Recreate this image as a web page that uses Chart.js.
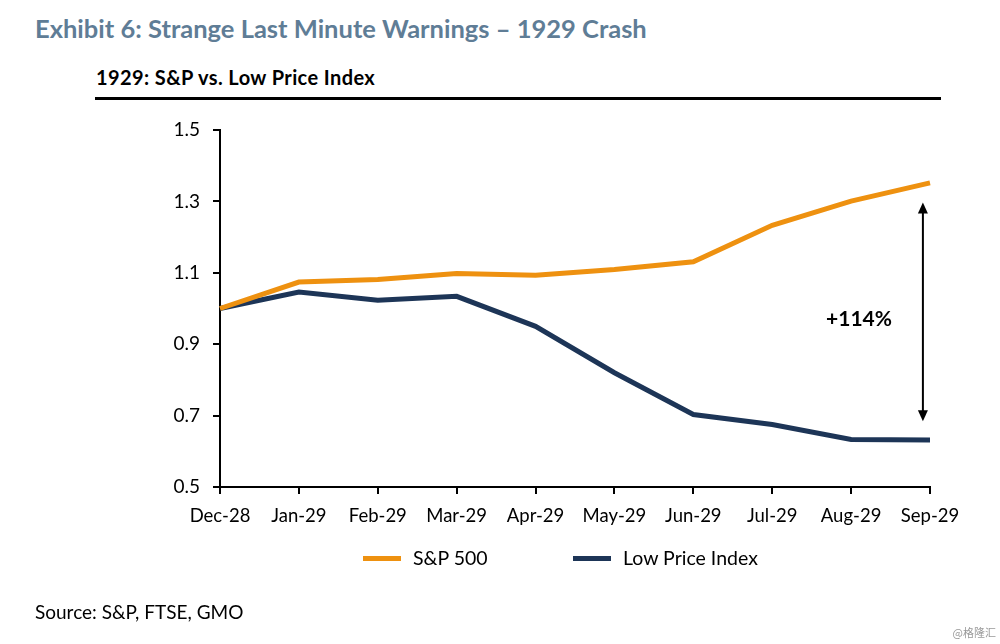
<!DOCTYPE html>
<html>
<head>
<meta charset="utf-8">
<script src="https://cdn.jsdelivr.net/npm/chart.js@4"></script>
<style>
  html, body { margin: 0; padding: 0; background: #fff; }
  body { width: 1000px; height: 644px; position: relative; overflow: hidden; font-family: Lato, "Open Sans", sans-serif; }
  #my-chart { position: absolute; left: 0; top: 0; }
  .txt { position: absolute; white-space: nowrap; }
  #title { left: 35px; top: 13px; font-size: 25.5px; font-weight: bold; color: #5f7d96; }
  #subtitle { left: 96px; top: 65px; font-size: 20px; font-weight: bold; color: #000; letter-spacing: 0.4px; }
  #rule { position: absolute; left: 95px; top: 97px; width: 846px; height: 3px; background: #000; }
  .legend-item { position: absolute; top: 546px; font-size: 19.5px; color: #000; }
  .swatch { display: inline-block; width: 38px; height: 5px; vertical-align: middle; margin-right: 12px; position: relative; top: -2px; }
  #source { left: 35px; top: 600px; font-size: 19px; color: #000; }
  #mark { right: 4px; top: 624px; font-size: 11px; color: #999; font-family: "Noto Sans CJK SC", sans-serif; }
</style>
</head>
<body>
<div class="txt" id="title">Exhibit 6: Strange Last Minute Warnings – 1929 Crash</div>
<div class="txt" id="subtitle">1929: S&amp;P vs. Low Price Index</div>
<div id="rule"></div>
<canvas id="my-chart" width="1000" height="644"></canvas>
<div class="legend-item" style="left:363px;"><span class="swatch" style="background:#ee9110;"></span>S&amp;P 500</div>
<div class="legend-item" style="left:573px;"><span class="swatch" style="background:#1d3557;"></span>Low Price Index</div>
<div class="txt" id="source">Source: S&amp;P, FTSE, GMO</div>
<div class="txt" id="mark">@格隆汇</div>
<script>
'use strict';

// DATA
let months = ['Dec-28', 'Jan-29', 'Feb-29', 'Mar-29', 'Apr-29', 'May-29', 'Jun-29', 'Jul-29', 'Aug-29', 'Sep-29'];
let spValues = [1.0, 1.074, 1.081, 1.098, 1.093, 1.109, 1.131, 1.233, 1.301, 1.352];
let lowValues = [1.0, 1.046, 1.023, 1.034, 0.950, 0.820, 0.703, 0.675, 0.633, 0.632];
let yTicks = [0.5, 0.7, 0.9, 1.1, 1.3, 1.5];

// ANNOTATION (arrow between the two lines near Sep-29)
let arrowIndex = 8.91;
let arrowTop = 1.297;
let arrowBottom = 0.684;
let gapLabel = '+114%';
let gapLabelIndex = 8.1;
let gapLabelValue = 0.97;

let canvasElem = document.getElementById('my-chart');

// draws the double-headed arrow and its label
let arrowPlugin = {
  id: 'gapArrow',
  afterDatasetsDraw(chart) {
    let ctx = chart.ctx;
    let x = chart.scales.x.getPixelForValue(arrowIndex);
    let y1 = chart.scales.y.getPixelForValue(arrowTop);
    let y2 = chart.scales.y.getPixelForValue(arrowBottom);
    ctx.save();
    ctx.strokeStyle = '#000';
    ctx.fillStyle = '#000';
    ctx.lineWidth = 2;
    ctx.beginPath();
    ctx.moveTo(x, y1 + 8);
    ctx.lineTo(x, y2 - 8);
    ctx.stroke();
    ctx.beginPath();
    ctx.moveTo(x, y1);
    ctx.lineTo(x - 5, y1 + 11);
    ctx.lineTo(x + 5, y1 + 11);
    ctx.closePath();
    ctx.fill();
    ctx.beginPath();
    ctx.moveTo(x, y2);
    ctx.lineTo(x - 5, y2 - 11);
    ctx.lineTo(x + 5, y2 - 11);
    ctx.closePath();
    ctx.fill();
    ctx.font = 'bold 21px Lato, "Open Sans", sans-serif';
    ctx.textAlign = 'center';
    ctx.textBaseline = 'middle';
    ctx.fillText(gapLabel, chart.scales.x.getPixelForValue(gapLabelIndex), chart.scales.y.getPixelForValue(gapLabelValue));
    ctx.restore();
  }
};

let theChart = {
  type: 'line',
  data: {
    labels: months,
    datasets: [{
      label: 'S&P 500',
      data: spValues,
      borderColor: '#ee9110',
      borderWidth: 5,
      pointRadius: 0,
      tension: 0
    },
    {
      label: 'Low Price Index',
      data: lowValues,
      borderColor: '#1d3557',
      borderWidth: 5,
      pointRadius: 0,
      tension: 0
    }]
  },
  options: {
    responsive: false,
    animation: false,
    layout: {
      padding: { left: 0, right: 70, top: 130, bottom: 117 }
    },
    plugins: {
      legend: { display: false },
      tooltip: { enabled: false }
    },
    scales: {
      x: {
        offset: false,
        grid: { drawOnChartArea: false, color: '#000', tickLength: 7, lineWidth: 2 },
        border: { color: '#000', width: 2 },
        ticks: {
          color: '#000',
          font: { family: 'Lato, "Open Sans", sans-serif', size: 18.5 },
          maxRotation: 0,
          autoSkip: false,
          padding: 11
        },
        afterFit(scale) { scale.height = 40; }
      },
      y: {
        min: 0.5,
        max: 1.5,
        afterBuildTicks(scale) {
          scale.ticks = yTicks.map(v => ({ value: v }));
        },
        grid: { drawOnChartArea: false, color: '#000', tickLength: 7, lineWidth: 2 },
        border: { color: '#000', width: 2 },
        ticks: {
          color: '#000',
          font: { family: 'Lato, "Open Sans", sans-serif', size: 19 },
          padding: 13,
          callback: v => v.toFixed(1)
        },
        afterFit(scale) { scale.width = 220; }
      }
    }
  },
  plugins: [arrowPlugin]
};

new Chart(canvasElem, theChart);
</script>
</body>
</html>
